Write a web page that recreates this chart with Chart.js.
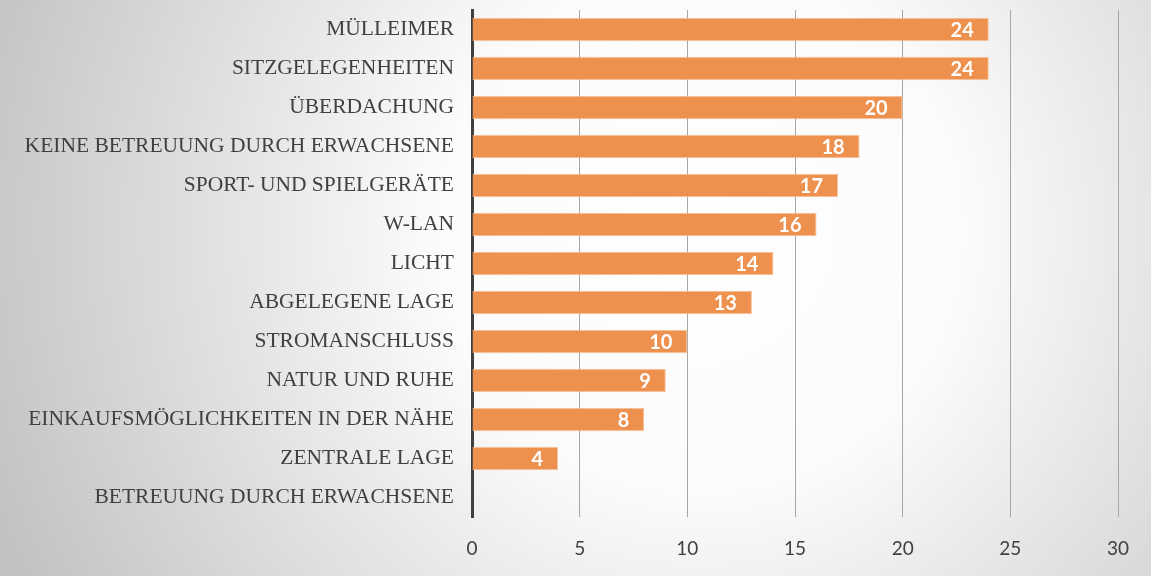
<!DOCTYPE html>
<html>
<head>
<meta charset="utf-8">
<script src="https://cdn.jsdelivr.net/npm/chart.js@4"></script>
<style>
  html, body { margin: 0; padding: 0; background: #fff; }
  #wrap { width: 1151px; height: 576px; }
</style>
</head>
<body>
<div id="wrap"><canvas id="myChart" width="1151" height="576"></canvas></div>
<script>
// categories, top to bottom
const labels = [
  'MÜLLEIMER',
  'SITZGELEGENHEITEN',
  'ÜBERDACHUNG',
  'KEINE BETREUUNG DURCH ERWACHSENE',
  'SPORT- UND SPIELGERÄTE',
  'W-LAN',
  'LICHT',
  'ABGELEGENE LAGE',
  'STROMANSCHLUSS',
  'NATUR UND RUHE',
  'EINKAUFSMÖGLICHKEITEN IN DER NÄHE',
  'ZENTRALE LAGE',
  'BETREUUNG DURCH ERWACHSENE'
];
const counts = [24, 24, 20, 18, 17, 16, 14, 13, 10, 9, 8, 4, 0];

// grey radial background behind everything
const bgPlugin = {
  id: 'bg',
  beforeDraw(chart) {
    const ctx = chart.ctx;
    const w = chart.width, h = chart.height;
    ctx.save();
    const g = ctx.createRadialGradient(700, 230, 0, 700, 230, 760);
    g.addColorStop(0, '#ffffff');
    g.addColorStop(0.35, '#fbfbfb');
    g.addColorStop(1, '#c2c2c2');
    ctx.fillStyle = g;
    ctx.fillRect(0, 0, w, h);
    ctx.restore();
  }
};

// white value labels at the inside end of each bar
const valuePlugin = {
  id: 'values',
  afterDatasetsDraw(chart) {
    const ctx = chart.ctx;
    const meta = chart.getDatasetMeta(0);
    ctx.save();
    ctx.font = 'bold 20px Lato, "Open Sans", sans-serif';
    ctx.fillStyle = '#ffffff';
    ctx.textAlign = 'right';
    ctx.textBaseline = 'middle';
    meta.data.forEach(function (bar, i) {
      const v = counts[i];
      if (!v) return;
      ctx.fillText(String(v), bar.x - 15, bar.y + 1);
    });
    ctx.restore();
  }
};

const config = {
  type: 'bar',
  data: {
    labels: labels,
    datasets: [{
      data: counts,
      backgroundColor: '#ee914f',
      borderColor: '#f7c39b',
      borderWidth: 1,
      borderSkipped: 'start',
      barPercentage: 0.6,
      categoryPercentage: 1.0
    }]
  },
  options: {
    indexAxis: 'y',
    responsive: false,
    animation: false,
    layout: { padding: { top: 10, right: 33, bottom: 0, left: 0 } },
    plugins: {
      legend: { display: false },
      tooltip: { enabled: false }
    },
    scales: {
      x: {
        min: 0,
        max: 30,
        ticks: {
          stepSize: 5,
          padding: 20,
          color: '#404040',
          font: { family: 'Lato, "Open Sans", sans-serif', size: 19 }
        },
        grid: {
          color: function (c) { return c.tick && c.tick.value === 0 ? 'rgba(0,0,0,0)' : '#a6a6a6'; },
          lineWidth: 1,
          drawTicks: false
        },
        border: { display: false },
        afterFit: function (scale) { scale.height = 59; }
      },
      y: {
        ticks: {
          padding: 18,
          color: '#404040',
          font: { family: '"Liberation Serif", "Times New Roman", serif', size: 21.5 }
        },
        grid: { display: false, drawTicks: false },
        border: { display: true, color: '#404040', width: 3 },
        afterFit: function (scale) {
          scale.width = 472;
          scale.paddingTop = 0;
          scale.paddingBottom = 0;
        }
      }
    }
  },
  plugins: [bgPlugin, valuePlugin]
};

const myChart = new Chart(document.getElementById('myChart'), config);
</script>
</body>
</html>
